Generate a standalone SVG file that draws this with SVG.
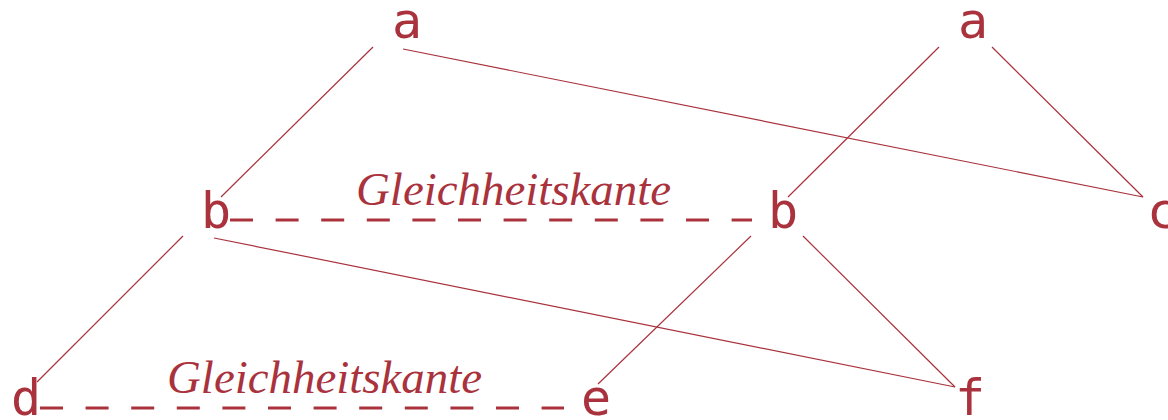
<svg xmlns="http://www.w3.org/2000/svg" width="1168" height="420" viewBox="0 0 1168 420">
<style>
.node{font-family:"DejaVu Sans Mono","Liberation Mono",monospace;font-size:50px;fill:#a9323d;text-anchor:middle}
.lbl{font-family:"Liberation Serif","DejaVu Serif",serif;font-style:italic;font-size:47px;fill:#a9323d}
.edge{stroke:#a9323d;stroke-width:1.2;fill:none}
.eq{stroke:#a9323d;stroke-width:3;stroke-dasharray:23 22.6;fill:none}
</style>
<rect width="1168" height="420" fill="#fff"/>
<g id="connectors">
<line class="edge" x1="373" y1="47" x2="221" y2="197"/>
<line class="edge" x1="403" y1="49" x2="1143" y2="197"/>
<line class="edge" x1="939" y1="47" x2="788" y2="197"/>
<line class="edge" x1="992" y1="47" x2="1143" y2="197"/>
<line class="edge" x1="183" y1="236" x2="37" y2="382"/>
<line class="edge" x1="214" y1="238" x2="955" y2="387"/>
<line class="edge" x1="751" y1="236" x2="598" y2="384"/>
<line class="edge" x1="803" y1="236" x2="955" y2="387"/>
<line class="eq" x1="230" y1="220" x2="752" y2="220"/>
<line class="eq" x1="40" y1="408" x2="564" y2="408"/>
<text class="lbl" x="356" y="205" textLength="315" lengthAdjust="spacingAndGlyphs">Gleichheitskante</text>
<text class="lbl" x="167" y="393" textLength="315" lengthAdjust="spacingAndGlyphs">Gleichheitskante</text>
</g>
<g id="a1"><text class="node" x="407" y="38">a</text></g>
<g id="a2"><text class="node" x="973" y="38">a</text></g>
<g id="b1"><text class="node" x="216" y="228">b</text></g>
<g id="b2"><text class="node" x="783" y="228">b</text></g>
<g id="c"><text class="node" x="1162" y="228">c</text></g>
<g id="d"><text class="node" x="26" y="415">d</text></g>
<g id="e"><text class="node" x="596" y="415">e</text></g>
<g id="f"><text class="node" x="970" y="415">f</text></g>
</svg>
